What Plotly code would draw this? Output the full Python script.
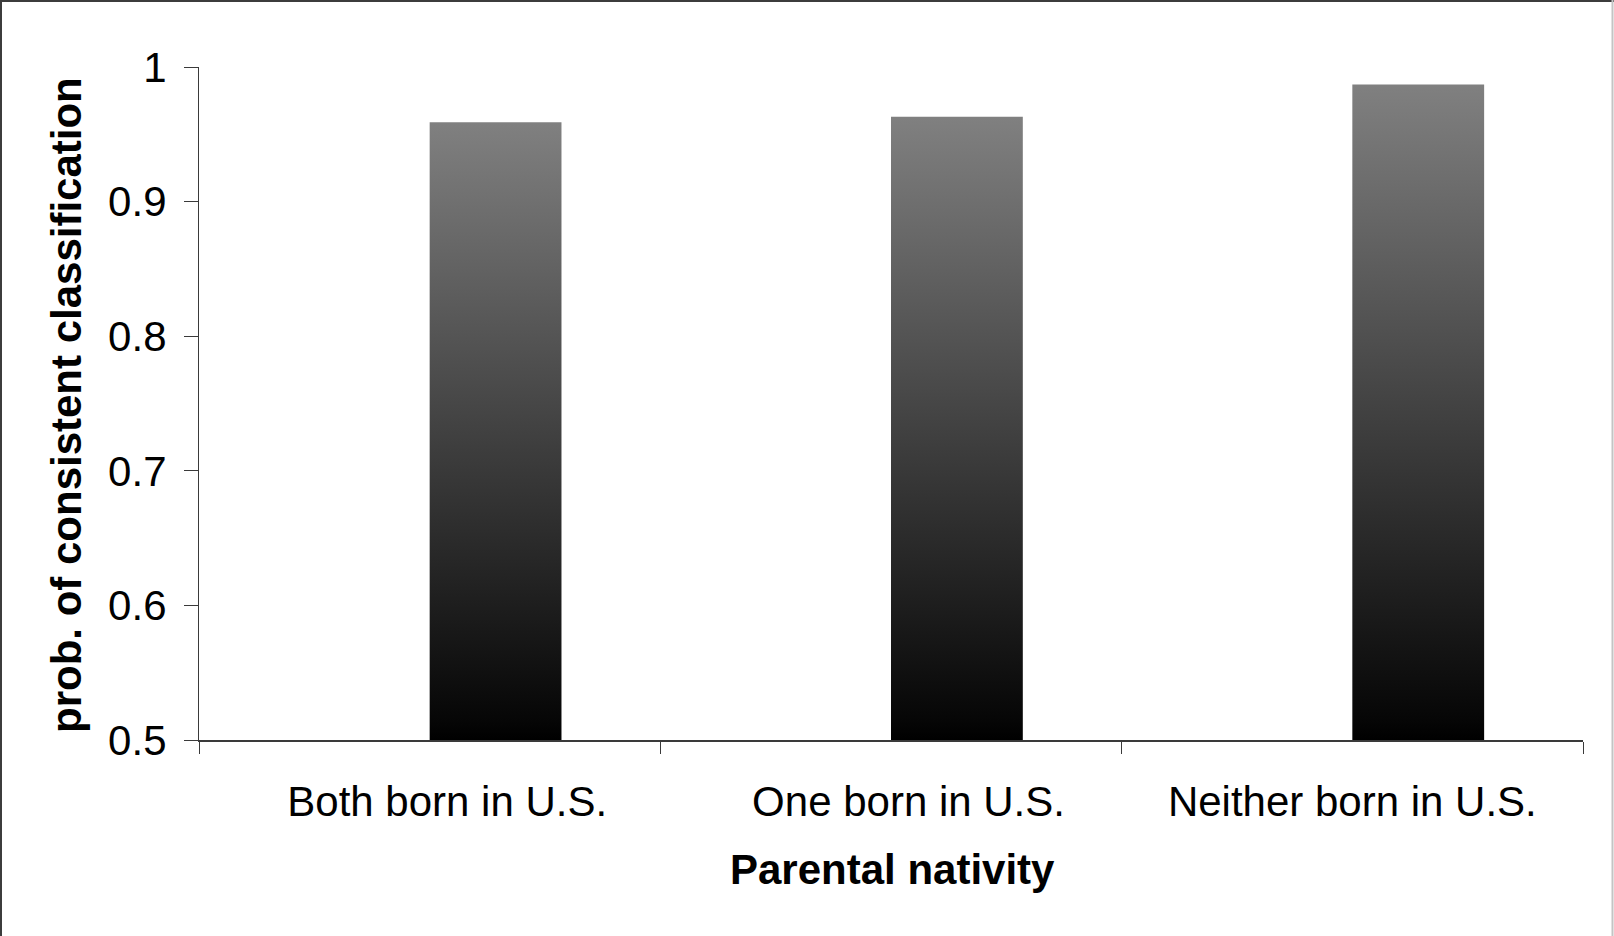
import plotly.graph_objects as go

# Parental nativity groups and the probability of consistent classification
categories = ["Both born in U.S.", "One born in U.S.", "Neither born in U.S."]
values = [0.959, 0.963, 0.987]
y_ticks = [0.5, 0.6, 0.7, 0.8, 0.9, 1.0]
y_tick_labels = ["0.5", "0.6", "0.7", "0.8", "0.9", "1"]

x_title = "Parental nativity"
y_title = "prob. of consistent classification"

W, H = 1614, 936
ML, MR, MT, MB = 199, 31, 67, 196
PW, PH = W - ML - MR, H - MT - MB
Y_MIN, Y_MAX = y_ticks[0], y_ticks[-1]

FONT = "Arial, Liberation Sans, sans-serif"
FS = 42
BAR_W = 1 / 3.5  # bar width as a fraction of a category slot


def px_x(px):
    return (px - ML) / PW


def px_y(py):
    return (H - MB - py) / PH


fig = go.Figure()

# Each bar is a filled polygon so it can carry a vertical black-to-grey gradient
for i, (cat, val) in enumerate(zip(categories, values)):
    x0 = i + 0.5
    x1 = x0 + BAR_W
    fig.add_trace(go.Scatter(
        x=[x0, x0, x1, x1, x0],
        y=[Y_MIN, val, val, Y_MIN, Y_MIN],
        mode="lines",
        fill="toself",
        line=dict(width=0, color="rgba(0,0,0,0)"),
        fillgradient=dict(
            type="vertical",
            colorscale=[[0, "#000000"], [0.03, "#060606"], [1, "#808080"]],
        ),
        name=cat,
        hoveron="fills",
        text=f"{cat}: {val:.3f}",
        hoverinfo="text",
        showlegend=False,
    ))

axis_color = "#3a3a3a"

# category labels sit a little right of the slot centre, except the widest one
label_shift = [0.038, 0.038, 0.0]

fig.update_layout(
    width=W,
    height=H,
    margin=dict(l=ML, r=MR, t=MT, b=MB, pad=0),
    paper_bgcolor="white",
    plot_bgcolor="white",
    font=dict(family=FONT, size=FS, color="black"),
    xaxis=dict(
        range=[0, len(categories)],
        tickmode="array",
        tickvals=[i + 0.5 + s for i, s in enumerate(label_shift)],
        ticktext=categories,
        ticks="",
        ticklabelstandoff=24,
        showgrid=False,
        zeroline=False,
        showline=True,
        linecolor=axis_color,
        linewidth=1.5,
        minor=dict(
            tickmode="array",
            tickvals=list(range(len(categories) + 1)),
            ticks="outside",
            ticklen=12,
            tickwidth=1.2,
            tickcolor=axis_color,
            showgrid=False,
        ),
        tickfont=dict(family=FONT, size=FS, color="black"),
        fixedrange=True,
    ),
    yaxis=dict(
        range=[Y_MIN, Y_MAX],
        tickmode="array",
        tickvals=y_ticks,
        ticktext=y_tick_labels,
        ticks="outside",
        ticklen=14,
        tickwidth=1.2,
        tickcolor=axis_color,
        ticklabelstandoff=9,
        showgrid=False,
        zeroline=False,
        showline=True,
        linecolor=axis_color,
        linewidth=1.2,
        tickfont=dict(family=FONT, size=FS, color="black"),
        fixedrange=True,
    ),
    annotations=[
        dict(
            text=f"<b>{x_title}</b>",
            xref="paper", yref="paper",
            x=px_x(892), y=px_y(869),
            xanchor="center", yanchor="middle",
            showarrow=False,
            font=dict(family=FONT, size=FS, color="black"),
        ),
        dict(
            text=f"<b>{y_title}</b>",
            xref="paper", yref="paper",
            x=px_x(66), y=px_y(405),
            xanchor="center", yanchor="middle",
            textangle=-90,
            showarrow=False,
            font=dict(family=FONT, size=FS, color="black"),
        ),
    ],
    shapes=[
        # frame around the whole chart
        dict(type="line", xref="paper", yref="paper",
             x0=px_x(0), x1=px_x(W), y0=px_y(1), y1=px_y(1),
             line=dict(color="#3c3c3c", width=2)),
        dict(type="line", xref="paper", yref="paper",
             x0=px_x(1), x1=px_x(1), y0=px_y(0), y1=px_y(H),
             line=dict(color="#3c3c3c", width=2)),
        dict(type="line", xref="paper", yref="paper",
             x0=px_x(W - 1.5), x1=px_x(W - 1.5), y0=px_y(0), y1=px_y(H),
             line=dict(color="#c4c4c4", width=2)),
    ],
)

fig.write_html("out.html")
